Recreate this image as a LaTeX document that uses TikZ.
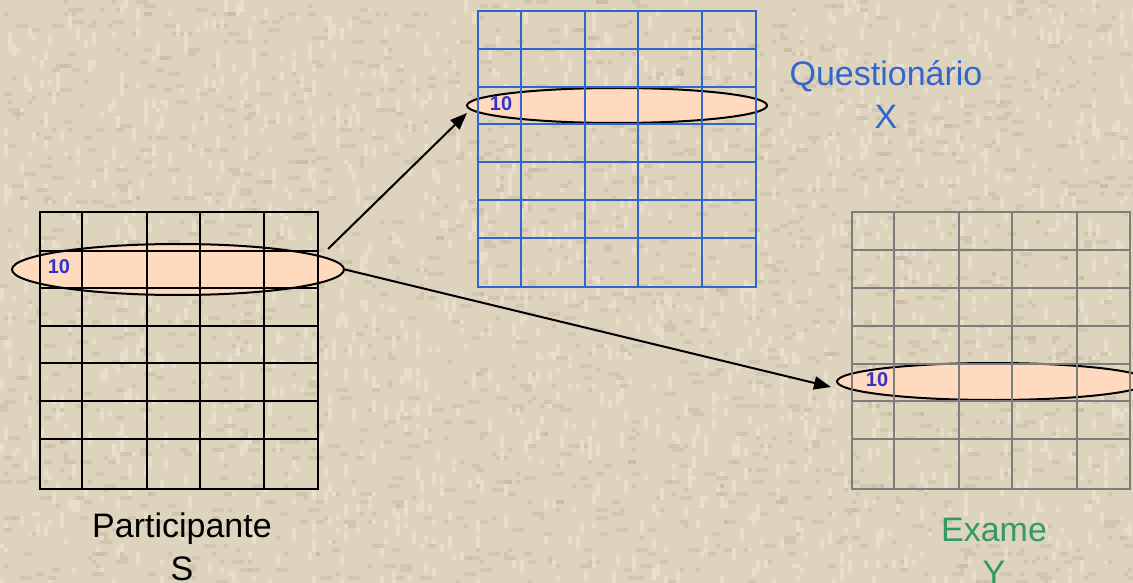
\documentclass[tikz,border=0pt]{standalone}
\usepackage{fontspec}
\setmainfont{Liberation Sans}
\usetikzlibrary{arrows.meta,shapes.geometric}

\definecolor{paper}{RGB}{222,212,190}
\definecolor{paperdark}{RGB}{198,186,162}
\definecolor{paperlight}{RGB}{238,228,208}
\definecolor{peach}{RGB}{255,218,190}
\definecolor{qblue}{RGB}{51,102,204}
\definecolor{numblue}{RGB}{51,51,204}
\definecolor{egreen}{RGB}{51,153,102}
\definecolor{ygray}{RGB}{125,125,125}

\tikzset{
  rowmark/.style={ellipse, draw=black, line width=2pt, fill=peach, inner sep=0pt},
  rownum/.style={font=\bfseries\fontsize{20}{20}\selectfont, text=numblue, inner sep=0pt},
  biglabel/.style={font=\fontsize{34}{43}\selectfont, anchor=base, inner sep=0pt},
  link/.style={line width=2pt, -{Triangle[length=17pt,width=13pt]}},
  gridline/.style={line width=2pt, line cap=rect}
}

\begin{document}
\begin{tikzpicture}[x=1pt,y=-1pt]
% paper background with a coarse, grainy texture
\fill[paper] (0,0) rectangle (1133,583);
\useasboundingbox (0,0) rectangle (1133,583);
\pgfmathsetseed{11}
\foreach \i in {1,...,1700}{
  \pgfmathtruncatemacro\px{4*random(0,283)}
  \pgfmathtruncatemacro\py{4*random(0,145)}
  \pgfmathtruncatemacro\pw{4*random(1,3)}
  \fill[paperdark,opacity=0.5] (\px,\py) rectangle ++(\pw,4);
}
\foreach \i in {1,...,1700}{
  \pgfmathtruncatemacro\px{4*random(0,283)}
  \pgfmathtruncatemacro\py{4*random(0,145)}
  \pgfmathtruncatemacro\ph{4*random(1,3)}
  \fill[paperlight,opacity=0.65] (\px,\py) rectangle ++(4,\ph);
}

% highlighted rows (record 10)
\node[rowmark, minimum width=332pt, minimum height=51pt] (sRow) at (178,269.5) {};
\node[rowmark, minimum width=300pt, minimum height=35pt] (xRow) at (617,105.5) {};
\node[rowmark, minimum width=312pt, minimum height=37pt] (yRow) at (993,381.5) {};

% participant table S
\foreach \c in {40,82,147,200,264,318}
  \draw[gridline, black] (\c,212) -- (\c,489);
\foreach \r in {212,251,288,326,363,401,439,489}
  \draw[gridline, black] (40,\r) -- (318,\r);

% questionnaire table X
\foreach \c in {478,521,585,638,702,756}
  \draw[gridline, qblue] (\c,11) -- (\c,287);
\foreach \r in {11,49,87,124,162,200,238,287}
  \draw[gridline, qblue] (478,\r) -- (756,\r);

% exam table Y
\foreach \c in {852,894,959,1012,1077,1130}
  \draw[gridline, ygray] (\c,212) -- (\c,489);
\foreach \r in {212,250,288,326,364,401,439,489}
  \draw[gridline, ygray] (852,\r) -- (1130,\r);

% row numbers
\node[rownum] (sNum) at (59,267) {10};
\node[rownum] (xNum) at (501,104) {10};
\node[rownum] (yNum) at (877,380) {10};

% labels
\node[biglabel] (sName) at (182,537) {Participante};
\node[biglabel] (sLetter) at (182,580) {S};
\node[biglabel, text=qblue] (xName) at (886,86) {Questionário};
\node[biglabel, text=qblue] (xLetter) at (886,129) {X};
\node[biglabel, text=egreen] (yName) at (994,541) {Exame};
\node[biglabel, text=egreen] (yLetter) at (994,584) {Y};

% links from the participant row to the other tables
\coordinate (sOut) at (328,249);
\coordinate (xIn) at (467,113);
\coordinate (yIn) at (831,387);
\draw[link] (sOut) -- (xIn);
\draw[link] (sRow.east) -- (yIn);
\end{tikzpicture}
\end{document}
